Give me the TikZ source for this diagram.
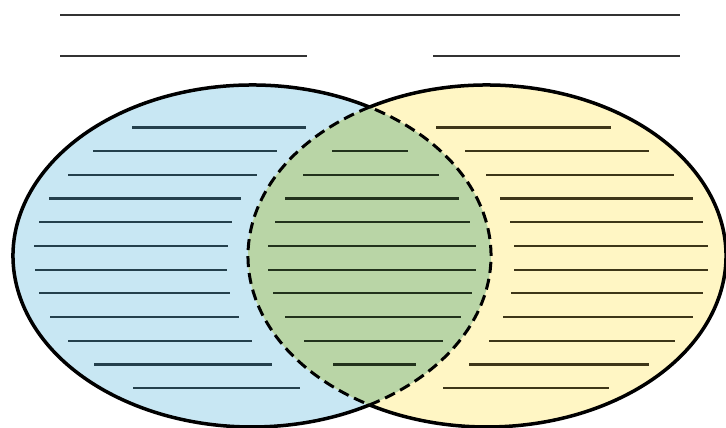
\documentclass[tikz,border=0pt]{standalone}
\definecolor{bluefill}{HTML}{C8E7F3}
\definecolor{yellowfill}{HTML}{FFF6C4}
\definecolor{greenfill}{HTML}{B9D5A6}
\definecolor{lineL}{HTML}{24404C}
\definecolor{lineM}{HTML}{22321C}
\definecolor{lineR}{HTML}{3E3618}
\definecolor{topline}{HTML}{333333}
\tikzset{
  outline/.style={line width=3.5pt, black},
  lensline/.style={line width=3pt, black, dash pattern=on 11pt off 6pt},
  ruleL/.style={line width=2.2pt, lineL},
  ruleM/.style={line width=2.2pt, lineM},
  ruleR/.style={line width=2.2pt, lineR},
  ruleT/.style={line width=2.8pt, topline},
}
\begin{document}
\begin{tikzpicture}[x=1pt,y=1pt]
\useasboundingbox (0,0) rectangle (726,428);
\fill[white] (0,0) rectangle (726,428);
\coordinate (cl) at (252,172);
\coordinate (cr) at (487,172);
% fills
\fill[bluefill] (cl) ellipse [x radius=239pt, y radius=171pt];
\fill[yellowfill] (cr) ellipse [x radius=239pt, y radius=171pt];
\begin{scope}
\clip (cl) ellipse [x radius=239pt, y radius=171pt];
\fill[greenfill] (cr) ellipse [x radius=239pt, y radius=171pt];
\end{scope}
% title rules
\draw[ruleT] (60,413) -- (680,413);
\draw[ruleT] (60,372) -- (307,372);
\draw[ruleT] (433,372) -- (680,372);
% left rules
\foreach \y/\a/\b in {300.5/132/306,276.8/93/277,253.1/68/257,229.4/49/241,205.7/39/232,182/34/228,158.3/35/227,134.6/39/230,110.9/50/239,87.2/68/252,63.5/94/272,39.8/133/300}
  \draw[ruleL] (\a,\y) -- (\b,\y);
% middle rules
\foreach \y/\a/\b in {276.8/332/408,253.1/303/439,229.4/285/459,205.7/275/470,182/268/476,158.3/268/476,134.6/273/472,110.9/285/461,87.2/304/443,63.5/333/416}
  \draw[ruleM] (\a,\y) -- (\b,\y);
% right rules
\foreach \y/\a/\b in {300.5/436/611,276.8/465/649,253.1/486/674,229.4/500/693,205.7/510/703,182/514/708,158.3/514/708,134.6/511/703,110.9/503/693,87.2/489/675,63.5/469/649,39.8/443/609}
  \draw[ruleR] (\a,\y) -- (\b,\y);
% outlines
\draw[outline] ([shift={(252,172)}]60.55:239pt and 171pt) arc[start angle=60.55, end angle=299.45, x radius=239pt, y radius=171pt];
\draw[outline] ([shift={(487,172)}]119.45:239pt and 171pt) arc[start angle=119.45, end angle=-119.45, x radius=239pt, y radius=171pt];
\draw[lensline] ([shift={(252,172)}]-60.55:239pt and 171pt) arc[start angle=-60.55, end angle=60.55, x radius=239pt, y radius=171pt];
\draw[lensline] ([shift={(487,172)}]119.45:239pt and 171pt) arc[start angle=119.45, end angle=240.55, x radius=239pt, y radius=171pt];
\end{tikzpicture}
\end{document}
